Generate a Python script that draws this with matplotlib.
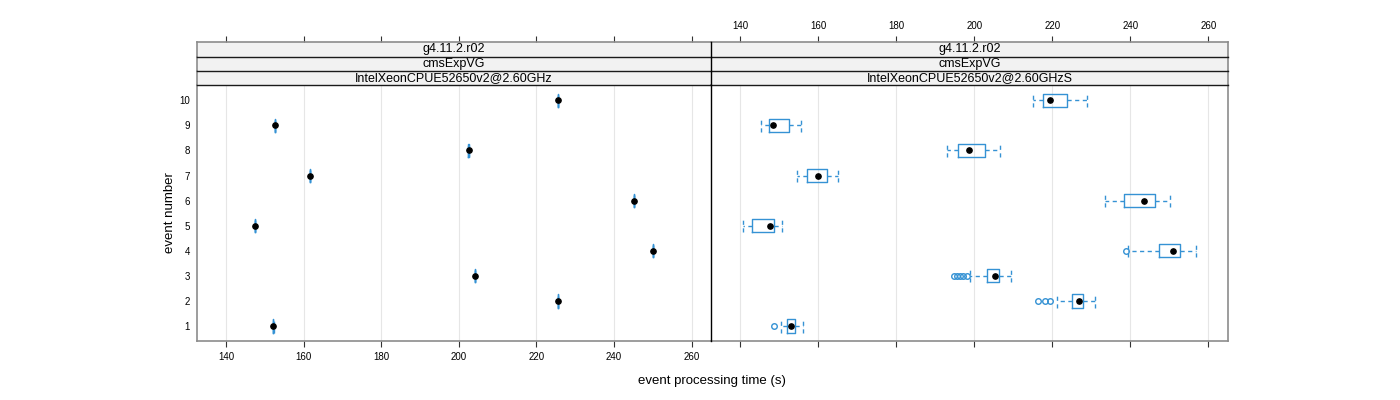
import matplotlib
matplotlib.use("Agg")
import matplotlib.pyplot as plt
from matplotlib.lines import Line2D

plt.rcParams['font.family'] = ['Liberation Sans', 'DejaVu Sans']

# ---------------- data ----------------
events = [1, 2, 3, 4, 5, 6, 7, 8, 9, 10]
xticks = [140, 160, 180, 200, 220, 240, 260]
strip_top = "g4.11.2.r02"
strip_mid = "cmsExpVG"
strip_left = "IntelXeonCPUE52650v2@2.60GHz"
strip_right = "IntelXeonCPUE52650v2@2.60GHzS"

# left panel (very small spread)
left_med = [152.2, 225.6, 204.1, 250.0, 147.4, 245.1, 161.6, 202.5, 152.6, 225.5]
left_q1 = [152.18, 225.58, 204.08, 249.98, 147.38, 245.08, 161.58, 202.48, 152.58, 225.48]
left_q3 = [152.22, 225.62, 204.12, 250.02, 147.42, 245.12, 161.62, 202.52, 152.62, 225.52]
left_lo = [152.16, 225.56, 204.06, 249.96, 147.36, 245.06, 161.56, 202.46, 152.56, 225.46]
left_hi = [152.24, 225.64, 204.14, 250.04, 147.44, 245.14, 161.64, 202.54, 152.64, 225.54]

# right panel boxplots
right_lo = [150.5, 221.3, 198.9, 239.4, 140.6, 233.6, 154.6, 193.0, 145.4, 215.1]
right_q1 = [152.1, 224.9, 203.3, 247.4, 143.1, 238.3, 157.0, 195.9, 147.3, 217.7]
right_med = [152.9, 226.7, 205.2, 250.8, 147.5, 243.6, 160.0, 198.5, 148.5, 219.5]
right_q3 = [153.9, 227.9, 206.3, 252.7, 148.6, 246.3, 162.2, 202.6, 152.4, 223.8]
right_hi = [156.2, 231.0, 209.3, 256.7, 150.7, 250.2, 165.0, 206.6, 155.6, 228.9]
right_out = [[148.7], [216.4, 218.0, 219.5], [194.8, 195.6, 196.4, 197.2, 198.0],
             [238.9], [], [], [], [], [], []]

XLIM = (132.5, 265.0)
YLIM = (0.4, 10.6)
BLUE = '#3592d4'
BORDER = '#8c8c8c'

W, H = 1400, 400
fig = plt.figure(figsize=(14, 4), dpi=100)


def fx(px):
    return px / W


def fy(py):
    return 1 - py / H


panel_top, panel_bot = 85.3, 341.0
strip_h = 14.3
strip0 = 42.3
panels = [(197, 711, strip_left, left_lo, left_q1, left_med, left_q3, left_hi,
           [[] for _ in events], 'bottom', 'right'),
          (711, 1228, strip_right, right_lo, right_q1, right_med, right_q3, right_hi,
           right_out, 'top', 'left')]

for (x0, x1, slab, lo, q1, med, q3, hi, outs, labside, inner) in panels:
    ax = fig.add_axes([fx(x0), fy(panel_bot), fx(x1 - x0), (panel_bot - panel_top) / H])
    ax.set_xlim(*XLIM)
    ax.set_ylim(*YLIM)
    for xv in xticks:
        ax.axvline(xv, color='#e6e6e6', lw=0.8, zorder=0)
    stats = []
    for i in range(len(events)):
        stats.append(dict(med=med[i], q1=q1[i], q3=q3[i], whislo=lo[i], whishi=hi[i],
                          fliers=outs[i]))
    kw = dict(positions=events, widths=0.53, capwidths=0.53, showfliers=True,
              patch_artist=False,
              boxprops=dict(color=BLUE, lw=1.0),
              whiskerprops=dict(color=BLUE, lw=1.0, linestyle=(0, (3, 2.5))),
              capprops=dict(color=BLUE, lw=1.0, linestyle=(0, (3, 2.5))),
              medianprops=dict(linewidth=0, alpha=0),
              flierprops=dict(marker='o', markerfacecolor='none', markeredgecolor=BLUE,
                              markersize=4, markeredgewidth=1.0, linestyle='none'),
              manage_ticks=False)
    try:
        ax.bxp(stats, orientation='horizontal', **kw)
    except TypeError:
        ax.bxp(stats, vert=False, **kw)
    ax.plot(med, events, 'o', color='black', markersize=3.8, zorder=5)

    for s in ax.spines.values():
        s.set_color(BORDER)
        s.set_linewidth(1.2)
    ax.spines[inner].set_visible(False)
    ax.set_xticks(xticks)
    ax.tick_params(axis='x', direction='out', length=4, width=0.8, color='#333333',
                   labelsize=7, pad=4, labelbottom=(labside == 'bottom'))
    if x0 == 197:
        ax.set_yticks(events)
        ax.set_yticklabels([str(e) for e in events])
        ax.tick_params(axis='y', length=0, labelsize=7, pad=5)
    else:
        ax.set_yticks([])

    # strips
    labels = [strip_top, strip_mid, slab]
    for k, lab in enumerate(labels):
        top = strip0 + k * strip_h
        sax = fig.add_axes([fx(x0), fy(top + strip_h), fx(x1 - x0), strip_h / H])
        sax.set_facecolor('#f2f2f2')
        sax.set_xlim(*XLIM)
        sax.set_ylim(0, 1)
        sax.set_yticks([])
        for nm, s in sax.spines.items():
            s.set_color(BORDER)
            s.set_linewidth(1.2)
        sax.spines['bottom'].set_visible(False)
        sax.spines[inner].set_visible(False)
        if k > 0:
            sax.spines['top'].set_visible(False)
        sax.text(0.5, 0.5, lab, transform=sax.transAxes, ha='center', va='center',
                 fontsize=9, color='black')
        if k == 0:
            sax.set_xticks(xticks)
            sax.xaxis.tick_top()
            sax.tick_params(axis='x', direction='out', length=4, width=0.8,
                            color='#333333', labelsize=7, pad=4,
                            labeltop=(labside == 'top'), bottom=False, labelbottom=False)
        else:
            sax.set_xticks([])
    # dark separators between strips and above panel
    for k in range(1, 4):
        yy = fy(strip0 + k * strip_h)
        fig.add_artist(Line2D([fx(x0), fx(x1)], [yy, yy], color='#1a1a1a', lw=1.0,
                              transform=fig.transFigure, zorder=10))

# divider between panels
fig.add_artist(Line2D([fx(711), fx(711)], [fy(341), fy(strip0)], color='black', lw=1.0,
                      transform=fig.transFigure, zorder=11))

fig.text(fx(712), fy(381), 'event processing time (s)', ha='center', va='center', fontsize=9.5)
fig.text(fx(170), fy(213), 'event number', ha='center', va='center', rotation=90, fontsize=9.5)

fig.savefig('out.png', dpi=100)
